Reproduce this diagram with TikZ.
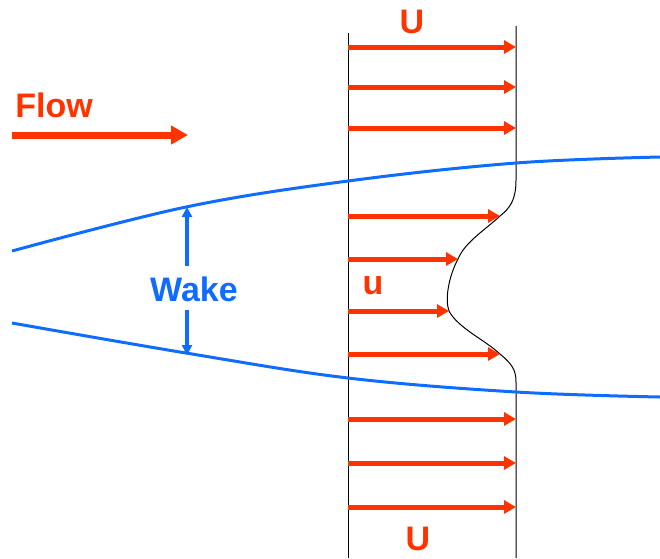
\documentclass[tikz,border=0pt]{standalone}
\usepackage{fontspec}
\setmainfont{Liberation Sans}
\usetikzlibrary{arrows.meta}
\definecolor{fred}{RGB}{255,51,0}
\definecolor{wblue}{RGB}{16,108,255}
\begin{document}
\begin{tikzpicture}[x=1pt,y=-1pt,
  lbl/.style={font=\fontsize{34}{40}\selectfont\bfseries, inner sep=0pt},
  uarrow/.style={draw=fred, line width=5pt, -{Triangle[length=12pt,width=13pt]}},
  flowarrow/.style={draw=fred, line width=7pt, -{Triangle[length=17pt,width=18pt]}},
  wakearrow/.style={draw=wblue, line width=3.5pt, -{Triangle[length=10pt,width=10pt]}},
  streamline/.style={draw=wblue, line width=3pt},
  profile/.style={draw=black, line width=1pt}]
\useasboundingbox (0,0) rectangle (660,558);
% station lines
\coordinate (lt) at (348,33); \coordinate (lb) at (348,558);
\coordinate (rt) at (516,26); \coordinate (rb) at (516,558);
\draw[profile] (lt) -- (lb);
% velocity profile with deficit
\coordinate (p1) at (500,216);
\coordinate (p2) at (458,259);
\coordinate (p3) at (449,311);
\coordinate (p4) at (500,354);
\draw[profile] (rt) -- (516,180) .. controls (516,200) and (510,208) .. (p1)
  .. controls (485,230) and (465,242) .. (p2)
  .. controls (448,278) and (445,300) .. (p3)
  .. controls (458,328) and (485,340) .. (p4)
  .. controls (512,364) and (516,370) .. (516,382) -- (rb);
% streamlines
\coordinate (s1a) at (12,251); \coordinate (s1b) at (186,207);
\coordinate (s1c) at (348,181); \coordinate (s1d) at (516,163); \coordinate (s1e) at (660,157);
\coordinate (s2a) at (12,323); \coordinate (s2b) at (186,353);
\coordinate (s2c) at (348,378); \coordinate (s2d) at (516,392); \coordinate (s2e) at (660,397);
\draw[streamline] plot[smooth, tension=0.6] coordinates {(s1a) (s1b) (s1c) (s1d) (s1e)};
\draw[streamline] plot[smooth, tension=0.6] coordinates {(s2a) (s2b) (s2c) (s2d) (s2e)};
% uniform arrows
\foreach \y [count=\i] in {47,87,128,419,463,507} {
  \coordinate (ua\i) at (348,\y);
  \coordinate (ub\i) at (516,\y);
  \draw[uarrow] (ua\i) -- (ub\i);
}
% deficit arrows
\coordinate (d1) at (348,216); \coordinate (d2) at (348,259);
\coordinate (d3) at (348,311); \coordinate (d4) at (348,354);
\draw[uarrow] (d1) -- (p1);
\draw[uarrow] (d2) -- (p2);
\draw[uarrow] (d3) -- (p3);
\draw[uarrow] (d4) -- (p4);
% labels
\node[lbl, text=fred] (Utop) at (412,22) {U};
\node[lbl, text=fred] (Ubot) at (418,539) {U};
\node[lbl, text=fred] (usmall) at (373,286) {u};
\node[lbl, text=fred] (flow) at (54,105) {Flow};
\node[lbl, text=wblue] (wake) at (194,289) {Wake};
% flow arrow
\coordinate (fa) at (12,135); \coordinate (fb) at (188,135);
\draw[flowarrow] (fa) -- (fb);
% wake arrows
\coordinate (w1) at (187,266); \coordinate (w2) at (187,207);
\coordinate (w3) at (187,310); \coordinate (w4) at (187,355);
\draw[wakearrow] (w1) -- (w2);
\draw[wakearrow] (w3) -- (w4);
\end{tikzpicture}
\end{document}
